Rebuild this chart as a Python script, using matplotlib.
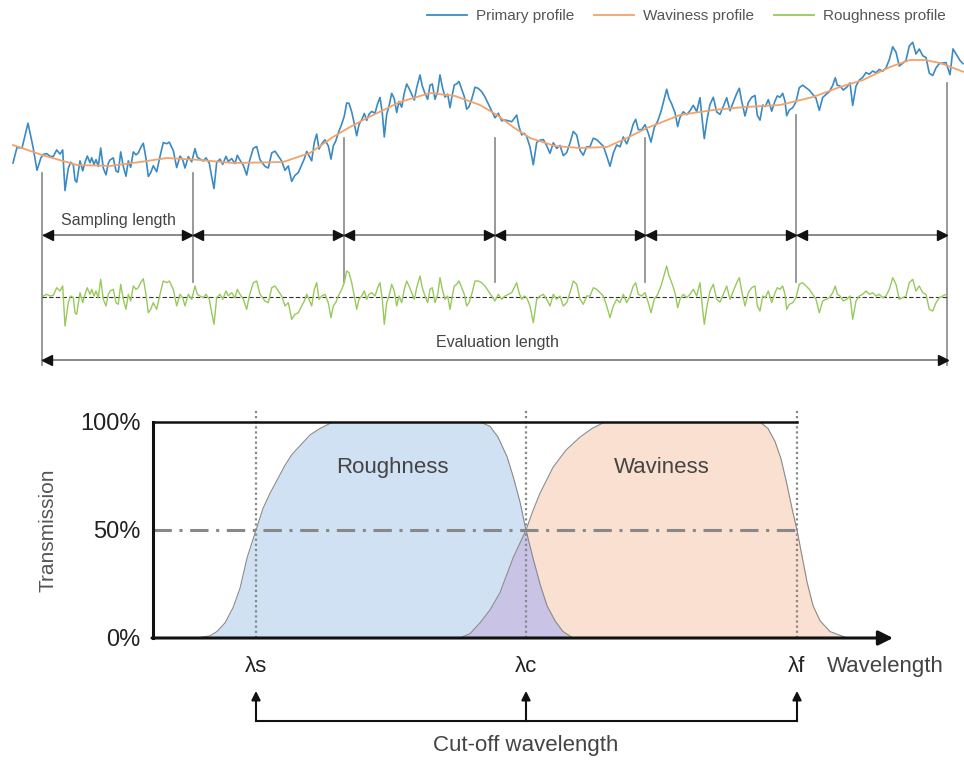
import numpy as np
import matplotlib
matplotlib.use('Agg')
import matplotlib.pyplot as plt
from matplotlib.lines import Line2D

plt.rcParams['font.family'] = ['Liberation Sans', 'DejaVu Sans']

# ---------------- DATA ----------------
# Surface profile (arbitrary length units along the surface, 0 = start of evaluation length)
eval_len = 905.0
n_samples = 6

# Waviness profile (height, arbitrary units)
wav_x = [-29, 0, 35, 68, 98, 125, 158, 191, 241, 268, 291, 308, 325, 358, 388, 413, 438,
         455, 471, 488, 513, 538, 565, 585, 605, 638, 671, 703, 738, 771, 798, 821, 848,
         868, 883, 898, 922]
wav_h = [30, 20, 10, 9, 13, 17, 15, 12, 13, 22, 38, 48, 57, 73, 82, 79, 70,
         60, 48, 37, 29, 27, 28, 37, 47, 60, 65, 68, 70, 78, 88, 95, 108,
         115, 115, 112, 103]

# Roughness profile (deviation from waviness)
rough_x = [
    -29, -25, -20, -14, -9, -5, -1,
    1.3, 4.7, 8.0, 11.3, 14.7, 18.0, 20.7, 23.0, 26.3, 28.7,
    31.3, 33.0, 34.7, 38.0, 40.7, 43.0, 45.3, 48.0, 49.7, 52.0,
    54.0, 56.3, 58.7, 61.3, 64.0, 66.3, 68.0, 71.3, 74.0, 76.3,
    78.7, 81.3, 84.0, 86.3, 88.7, 91.3, 94.0, 96.3, 98.7, 101.3,
    104.0, 106.3, 108.7, 111.3, 114.7, 118.0, 121.3, 124.7, 127.3, 129.7,
    131.3, 134.7, 138.0, 140.7, 143.0, 146.3, 149.7, 153.0, 155.3, 158.0,
    161.3, 164.0, 167.3, 169.7, 172.0, 174.7, 178.0, 180.7, 184.0, 186.3,
    189.7, 193.0, 195.3, 198.0, 201.3, 204.7, 207.3, 211.3, 214.7, 218.0,
    223.0, 226.3, 229.7, 233.0, 236.3, 239.7, 243.0, 246.3, 249.7, 253.0,
    256.3, 259.7, 262.3, 264.7, 267.0, 269.7, 272.3, 274.7, 277.0, 279.7,
    283.0, 286.3, 289.0, 291.3, 293.7, 296.3, 299.7, 302.3, 304.7, 307.0,
    309.7, 312.3, 314.7, 317.0, 319.7, 322.3, 324.7, 327.0, 329.7, 333.0,
    335.7, 338.0, 340.3, 342.3, 344.7, 347.0, 349.7, 352.3, 354.7, 357.0,
    359.7, 362.3, 364.7, 367.0, 369.7, 372.3, 374.7, 378.0, 380.3, 383.0,
    385.7, 388.0, 390.3, 393.0, 395.7, 398.0, 400.3, 403.0, 405.7, 408.0,
    410.3, 412.3, 414.7, 417.0, 419.7, 422.3, 424.7, 427.0, 429.7, 433.0,
    436.3, 439.7, 443.0, 446.3, 449.7,
    453.0, 456.3, 459.7, 463.0, 466.3, 469.7, 473.0, 474.7, 477.0, 479.7,
    482.3, 484.7, 488.0, 491.3, 494.7, 498.0, 501.3, 504.7, 508.0, 511.3,
    514.7, 518.0, 521.3, 524.7, 528.0, 531.3, 534.7, 538.0, 541.3, 544.7,
    548.0, 551.3, 554.7, 558.0, 561.3, 564.7, 568.0, 571.3, 574.7, 578.0,
    581.3, 584.7, 588.0, 591.3, 593.7, 596.3, 599.7, 603.0, 606.3, 609.0,
    612.3, 615.7, 619.0, 622.3, 624.7, 627.0, 629.7, 633.0, 635.7, 638.0,
    641.3, 644.7, 648.0, 651.3, 654.7, 658.0, 660.3, 662.3, 665.0, 668.0,
    671.3, 674.7, 678.0, 681.3,
    684.7, 688.0, 691.3, 694.7, 697.3, 699.7, 703.0, 706.3, 709.7, 713.0,
    715.3, 718.0, 720.7, 723.3, 726.3, 729.7, 733.0, 735.3, 738.0, 740.7,
    743.0, 744.7, 747.3, 750.7, 754.0, 757.3, 760.7, 764.0, 767.3, 770.7,
    774.0, 777.3, 780.7, 784.0, 787.3, 790.7, 793.3, 795.3, 798.0, 801.3,
    804.7, 808.0, 810.7, 814.0, 817.3, 820.7, 824.0, 827.3, 830.7, 834.0,
    837.3, 840.7, 844.0, 847.3, 850.7, 854.0, 857.3, 860.7, 864.0, 867.3,
    870.7, 874.0, 877.3, 880.7, 884.0, 887.3, 890.7, 894.0, 897.3, 900.7,
    904.0,
    908, 911, 918, 921]
rough_r = [
    -18, -1, 0, 27, 5, -17, -3,
    1.0, 2.7, 1.0, 1.7, 9.3, 6.0, 11.0, -29.0, -5.7, 1.0,
    -0.7, -15.7, -17.3, 4.3, -5.7, 2.7, 9.3, 2.7, 7.7, 1.0,
    6.0, -0.7, 17.7, -2.3, -9.0, 2.7, 6.0, 7.7, -5.7, -7.3,
    12.7, -2.3, -12.3, 2.7, -4.0, 11.0, 7.7, 9.3, 14.3, 18.3,
    2.7, -15.7, -12.3, -5.7, -12.3, 2.7, 16.0, 14.3, 16.0, 11.0,
    7.7, -9.0, 2.7, -0.7, -9.0, 2.7, -2.3, 11.0, 2.7, 1.0,
    -0.7, 2.7, -2.3, -15.7, -27.3, -0.7, 2.7, -2.3, 6.0, 1.0,
    4.3, -0.7, 7.7, 2.7, -2.3, -12.3, 1.0, 14.3, 16.0, 2.7,
    -4.0, -5.7, 9.3, 11.0, 6.0, 1.0, -9.0, -5.7, -22.3, -17.3,
    -15.7, -9.0, -4.0, 2.7, -2.3, -9.0, 7.7, 14.3, -2.3, 1.0,
    2.7, -5.7, -20.7, -9.0, -5.7, 1.0, 7.7, 14.3, 26.0, 24.3,
    14.3, 1.0, -12.3, -2.3, 1.0, 6.0, -2.3, 2.7, 4.3, 1.0,
    9.3, 14.3, -2.3, -27.3, -5.7, 1.0, 12.7, 6.0, -9.0, 1.0,
    -5.7, 7.7, 16.0, 11.0, 4.3, -2.3, 9.3, 21.0, 9.3, 1.0,
    -5.7, 7.7, 9.3, -5.7, 2.7, 19.3, 7.7, -2.3, 1.0, -12.3,
    1.0, 11.0, 12.7, 16.0, 9.3, 2.7, -9.0, -5.7, 2.7, 16.0,
    16.0, 14.3, 11.0, 6.0, 1.0,
    -4.0, 2.7, -2.3, 1.0, 2.7, 4.3, 11.0, 14.3, 4.3, -2.3,
    1.0, -0.7, -9.0, -25.7, -2.3, 1.0, 2.7, -2.3, -9.0, 2.7,
    -2.3, 1.0, -9.0, -5.7, 4.3, 16.0, 12.7, -2.3, -7.3, 1.0,
    1.0, 9.3, 7.7, 4.3, 1.0, -9.0, -20.7, -9.0, -2.3, -5.7,
    2.7, -5.7, 1.0, 11.0, 14.3, 2.7, 1.0, 4.3, -5.7, -15.7,
    -2.3, 2.7, 11.0, 22.7, 31.0, 21.0, 14.3, 4.3, -10.7, -2.3,
    2.7, -0.7, 2.7, 7.7, 1.0, 14.3, -9.0, -27.3, -9.0, 6.0,
    12.7, -2.3, -5.0, 2.7,
    11.0, -2.3, 6.0, 14.3, 19.3, 6.0, -9.0, 4.3, 9.3, 11.0,
    -9.0, -14.0, 1.0, -0.7, 6.0, -5.7, 4.3, 9.3, 7.7, 11.0,
    2.7, -12.3, -7.3, -5.7, -0.7, 12.7, 14.3, 11.0, 7.7, 2.7,
    -2.3, -15.7, -4.0, -2.3, -0.7, 4.3, 11.0, 2.7, 1.0, -4.0,
    -2.3, 1.0, -22.3, -4.0, 1.0, 2.7, 6.0, 2.7, 4.3, 1.0,
    2.7, -0.7, 1.0, 7.7, 19.3, 12.7, -2.3, -0.7, 1.0, 14.3,
    17.7, 6.0, 11.0, 4.3, 2.7, -12.3, -14.0, -5.7, -0.7, 1.0,
    2.7,
    -8, 19, 10, 8]

# Transmission characteristics (wavelength position in arbitrary units, transmission %)
cutoff_labels = ['λs', 'λc', 'λf']
cutoff_pos = [103, 373, 644]
rough_tx = [44, 57, 64, 72, 80, 87, 94, 103, 110, 117, 124, 132, 139, 147, 157, 167, 180,
            327, 337, 345, 354, 360, 367, 373, 380, 387, 394, 402, 410, 420]
rough_t = [0, 1, 3, 7, 14, 23, 37, 50, 60, 67, 73, 80, 85, 89, 94, 97, 100,
           100, 98, 93, 84, 75, 63, 50, 37, 25, 15, 8, 3, 0]
wav_tx = [307, 317, 327, 337, 347, 360, 367, 373, 380, 387, 400, 413, 427, 439, 452,
          607, 615, 622, 628, 634, 639, 644, 649, 654, 660, 667, 677, 694]
wav_t = [0, 2, 7, 13, 21, 37, 44, 50, 59, 67, 79, 87, 93, 97, 100,
         100, 97, 91, 83, 71, 60, 50, 38, 26, 15, 8, 3, 0]
y_ticks = [0, 50, 100]
y_ticklabels = ['0%', '50%', '100%']

# ---------------- STYLE ----------------
BLUE = '#3b8ac4'
ORANGE = '#f2a36b'
GREEN = '#98c95a'
BLUE_FILL = '#cfe1f3'
ORANGE_FILL = '#fae0d0'
PURPLE_FILL = '#c9c3e5'
GRAY = '#888888'
TXT = '#444444'

fig = plt.figure(figsize=(9.64, 7.6), dpi=100)

# ---------------- TOP: profiles ----------------
ax = fig.add_axes([0, 0.5, 1, 0.5])
ax.set_xlim(-42, 922)
ax.set_ylim(0, 380)
ax.axis('off')

PRIM0 = 205      # vertical placement of the primary profile
ROUGH0 = 83      # vertical placement of the roughness profile
ARROW_Y = 145
EVAL_Y = 20

rx = np.array(rough_x, dtype=float)
rr = np.array(rough_r, dtype=float)
w_at = np.interp(rx, wav_x, wav_h)
ax.plot(rx, PRIM0 + w_at + rr, color=BLUE, lw=1.2, zorder=3)
ax.plot(wav_x, PRIM0 + np.array(wav_h), color=ORANGE, lw=1.3, zorder=4)

m = (rx >= 0) & (rx <= eval_len)
ax.plot(rx[m], ROUGH0 + rr[m], color=GREEN, lw=1.0, zorder=3)
ax.plot([0, eval_len], [ROUGH0, ROUGH0], color='#333333', lw=0.8, dashes=(4, 2), zorder=2)

samp = eval_len / n_samples
bounds = [samp * i for i in range(n_samples + 1)]
tops = [207, 207, 242, 242, 242, 265, 297]
for i, b in enumerate(bounds):
    bottom = 15 if i in (0, n_samples) else 98
    ax.plot([b, b], [bottom, tops[i]], color=GRAY, lw=1.2, zorder=1)

def harrow(x0, x1, y):
    ax.plot([x0, x1], [y, y], color=GRAY, lw=1.4, zorder=2)
    ax.plot([x0 + 4.5], [y], marker='<', color='#111111', ms=7, zorder=3)
    ax.plot([x1 - 4.5], [y], marker='>', color='#111111', ms=7, zorder=3)

for i in range(n_samples):
    harrow(bounds[i] + 1, bounds[i + 1] - 1, ARROW_Y)
harrow(0, eval_len, EVAL_Y)

ax.text(76, 160, 'Sampling length', ha='center', va='center', fontsize=11.5, color=TXT)
ax.text(455, 37, 'Evaluation length', ha='center', va='center', fontsize=11.5, color=TXT)

handles = [Line2D([], [], color=BLUE, lw=1.3),
           Line2D([], [], color=ORANGE, lw=1.3),
           Line2D([], [], color=GREEN, lw=1.3)]
fig.legend(handles, ['Primary profile', 'Waviness profile', 'Roughness profile'],
           loc='upper right', bbox_to_anchor=(955 / 964, 1.0), ncol=3, frameon=False,
           fontsize=11, handlelength=2.6, columnspacing=1.3, handletextpad=0.6,
           labelcolor='#555555', borderaxespad=0.2)

# ---------------- BOTTOM: transmission ----------------
bx = fig.add_axes([153 / 964, (760 - 638) / 760, 740 / 964, 216 / 760])
bx.set_xlim(0, 740)
bx.set_ylim(0, 100)
for s in bx.spines.values():
    s.set_visible(False)
bx.set_xticks([])
bx.set_yticks(y_ticks, y_ticklabels)
bx.tick_params(axis='y', length=0, pad=9, labelsize=17, labelcolor='#222222')

lc = cutoff_pos[1]
bx.fill_between(rough_tx, rough_t, color=BLUE_FILL, lw=0, zorder=1)
bx.fill_between(wav_tx, wav_t, color=ORANGE_FILL, lw=0, zorder=1)
ov_x = [x for x in wav_tx if x <= lc] + [x for x in rough_tx if x > lc]
ov_y = [t for x, t in zip(wav_tx, wav_t) if x <= lc] + [t for x, t in zip(rough_tx, rough_t) if x > lc]
bx.fill_between(ov_x, ov_y, color=PURPLE_FILL, lw=0, zorder=2)
bx.plot(rough_tx, rough_t, color='#8a8a8a', lw=0.8, zorder=3)
bx.plot(wav_tx, wav_t, color='#8a8a8a', lw=0.8, zorder=3)

bx.plot([0, cutoff_pos[2]], [50, 50], color=GRAY, lw=2.2, dashes=(6, 2.5, 1, 2.5), zorder=4)
for p in cutoff_pos:
    bx.plot([p, p], [0, 106], color=GRAY, lw=1.6, ls=(0, (1, 1.3)), clip_on=False, zorder=4)

bx.plot([0, cutoff_pos[2]], [100, 100], color='#111111', lw=1.8, zorder=5, clip_on=False)
bx.plot([0, 0], [0, 100], color='#111111', lw=2.2, zorder=5, clip_on=False)
bx.annotate('', xy=(740, 0), xytext=(-1, 0), annotation_clip=False,
            arrowprops=dict(arrowstyle='-|>', color='#111111', lw=2.2,
                            mutation_scale=22, shrinkA=0, shrinkB=0), zorder=5)

bx.text(239, 79, 'Roughness', ha='center', va='center', fontsize=16, color=TXT)
bx.text(509, 79, 'Waviness', ha='center', va='center', fontsize=16, color=TXT)

for lab, p in zip(cutoff_labels, cutoff_pos):
    bx.text(p, -13, lab, ha='center', va='center', fontsize=16, color='#222222', clip_on=False)
    bx.annotate('', xy=(p, -24.5), xytext=(p, -38.5), annotation_clip=False,
                arrowprops=dict(arrowstyle='-|>', color='#111111', lw=1.5,
                                mutation_scale=13, shrinkA=0, shrinkB=0))
bx.plot([cutoff_pos[0], cutoff_pos[2]], [-38.5, -38.5], color='#111111', lw=1.5, clip_on=False)
bx.text(674, -13, 'Wavelength', ha='left', va='center', fontsize=16, color=TXT, clip_on=False)
bx.text(cutoff_pos[1], -50, 'Cut-off wavelength', ha='center', va='center',
        fontsize=16, color=TXT, clip_on=False)

fig.text(48 / 964, (760 - 530) / 760, 'Transmission', rotation=90, ha='center', va='center',
         fontsize=15, color='#555555')

fig.savefig('out.png', dpi=100, facecolor='white')
